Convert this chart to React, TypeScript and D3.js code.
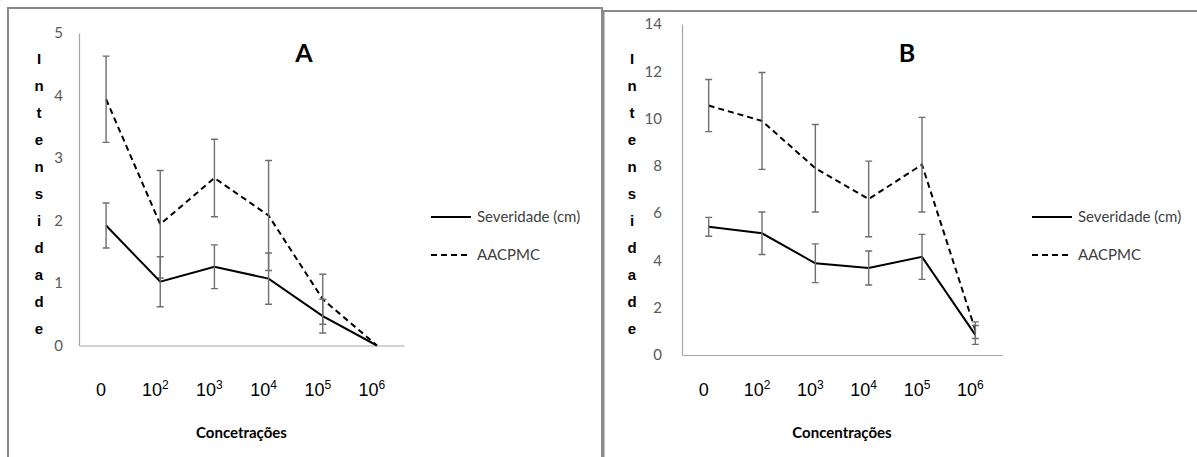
import React, { useRef, useEffect } from 'react'
import * as d3 from 'd3'

// concentrations, shown as base + superscript
const categories = ['c0', 'c2', 'c3', 'c4', 'c5', 'c6']
const tickBase = ['0', '10', '10', '10', '10', '10']
const tickExp = ['', '2', '3', '4', '5', '6']

const seriesNames = ['Severidade (cm)', 'AACPMC']

// panel A
const sevA = [1.92, 1.02, 1.26, 1.07, 0.47, 0]
const sevAErr = [0.36, 0.4, 0.35, 0.41, 0.27, 0]
const aacA = [3.94, 1.94, 2.68, 2.08, 0.74, 0]
const aacAErr = [0.69, 0.86, 0.62, 0.88, 0.4, 0]
const ticksA = [0, 1, 2, 3, 4, 5]

// panel B
const sevB = [5.42, 5.15, 3.88, 3.68, 4.15, 0.85]
const sevBErr = [0.4, 0.9, 0.82, 0.72, 0.95, 0.4]
const aacB = [10.55, 9.9, 7.9, 6.6, 8.05, 1.05]
const aacBErr = [1.1, 2.05, 1.85, 1.6, 2.0, 0.35]
const ticksB = [0, 2, 4, 6, 8, 10, 12, 14]

const yLetters = ['I', 'n', 't', 'e', 'n', 's', 'i', 'd', 'a', 'd', 'e']

const SOFT = 'Lato, "Open Sans", sans-serif'
const ARIAL = '"Liberation Sans", Arial, sans-serif'

type Panel = {
  title: string
  xLabel: string
  left: number
  right: number
  top: number
  bottom: number
  yMax: number
  ticks: number[]
  tickPad: number
  sev: number[]
  sevErr: number[]
  aac: number[]
  aacErr: number[]
  letterX: number
  legendGap: number
  frame: { x0: number; y0: number; x1: number; right: boolean }
}

const W = 1197
const H = 457

const App = () => {
  const ref = useRef<SVGSVGElement>(null)

  useEffect(() => {
    if (!ref.current) return
    const svg = d3.select(ref.current)
    svg.selectAll('*').remove()

    const panels: Panel[] = [
      {
        title: 'A', xLabel: 'Concetrações',
        left: 79, right: 404, top: 33, bottom: 345.5,
        yMax: 5, ticks: ticksA, tickPad: 16,
        sev: sevA, sevErr: sevAErr, aac: aacA, aacErr: aacAErr,
        letterX: 39, legendGap: 27,
        frame: { x0: 8, y0: 8, x1: 602, right: true },
      },
      {
        title: 'B', xLabel: 'Concentrações',
        left: 682, right: 1002, top: 24, bottom: 355,
        yMax: 14, ticks: ticksB, tickPad: 20,
        sev: sevB, sevErr: sevBErr, aac: aacB, aacErr: aacBErr,
        letterX: 632, legendGap: 30,
        frame: { x0: 603.5, y0: 11, x1: W + 2, right: false },
      },
    ]

    panels.forEach((p) => {
      const g = svg.append('g')

      // frame around the panel (bottom is cut off by the picture)
      const fr = p.frame
      g.append('path')
        .attr('d', `M${fr.x0},${H + 2}V${fr.y0}H${fr.x1}` + (fr.right ? `V${H + 2}` : ''))
        .attr('fill', 'none')
        .attr('stroke', '#8a8a8a')
        .attr('stroke-width', 2)

      const x = d3.scaleBand<string>().domain(categories).range([p.left, p.right])
      const y = d3.scaleLinear().domain([0, p.yMax]).range([p.bottom, p.top])
      const cx = (i: number) => (x(categories[i]) as number) + x.bandwidth() / 2

      // y axis
      const ya = g.append('g')
        .attr('transform', `translate(${p.left},0)`)
        .call(d3.axisLeft(y).tickValues(p.ticks).tickFormat(d3.format('d')).tickSize(0).tickSizeOuter(0).tickPadding(p.tickPad))
      ya.select('.domain').attr('stroke', '#a6a6a6').attr('stroke-width', 1.2)
      ya.selectAll('text')
        .attr('font-family', SOFT)
        .attr('font-size', 15)
        .attr('fill', '#595959')

      // x axis line only, labels drawn below
      const xa = g.append('g')
        .attr('transform', `translate(0,${p.bottom})`)
        .call(d3.axisBottom(x).tickSize(0).tickSizeOuter(0).tickFormat(() => ''))
      xa.select('.domain').attr('stroke', '#a6a6a6').attr('stroke-width', 1.2)

      // concentration labels
      categories.forEach((c, i) => {
        const t = g.append('text')
          .attr('x', cx(i) - 5)
          .attr('y', 396)
          .attr('text-anchor', 'middle')
          .attr('font-family', ARIAL)
          .attr('font-size', 18)
          .attr('fill', '#000')
        t.append('tspan').text(tickBase[i])
        if (tickExp[i]) {
          t.append('tspan').attr('dy', -7).attr('font-size', 12).text(tickExp[i])
        }
      })

      g.append('text')
        .attr('x', (p.left + p.right) / 2)
        .attr('y', 438)
        .attr('text-anchor', 'middle')
        .attr('font-family', SOFT)
        .attr('font-weight', 'bold')
        .attr('font-size', 15)
        .attr('fill', '#000')
        .text(p.xLabel)

      // stacked y label
      yLetters.forEach((l, i) => {
        g.append('text')
          .attr('x', p.letterX)
          .attr('y', 64 + i * 27)
          .attr('text-anchor', 'middle')
          .attr('font-family', ARIAL)
          .attr('font-weight', 'bold')
          .attr('font-size', 15)
          .attr('fill', '#000')
          .text(l)
      })

      // title
      g.append('text')
        .attr('x', p.left + 225)
        .attr('y', 62)
        .attr('text-anchor', 'middle')
        .attr('font-family', SOFT)
        .attr('font-weight', 'bold')
        .attr('font-size', 25)
        .attr('fill', '#000')
        .text(p.title)

      const line = d3.line<number>().x((_, i) => cx(i)).y((d) => y(d))

      const drawSeries = (vals: number[], errs: number[], dash: string | null) => {
        g.append('path')
          .attr('d', line(vals))
          .attr('fill', 'none')
          .attr('stroke', '#000')
          .attr('stroke-width', 2)
          .attr('stroke-dasharray', dash)
        vals.forEach((v, i) => {
          if (!errs[i]) return
          const x0 = cx(i)
          const y1 = y(v + errs[i])
          const y2 = y(v - errs[i])
          g.append('path')
            .attr('d', `M${x0},${y1}V${y2}M${x0 - 3.5},${y1}H${x0 + 3.5}M${x0 - 3.5},${y2}H${x0 + 3.5}`)
            .attr('fill', 'none')
            .attr('stroke', '#6f6f6f')
            .attr('stroke-width', 1.4)
        })
      }
      drawSeries(p.aac, p.aacErr, '6,4')
      drawSeries(p.sev, p.sevErr, null)

      // legend
      const lx = p.right + p.legendGap
      seriesNames.forEach((name, i) => {
        const ly = 217 + i * 38
        g.append('line')
          .attr('x1', lx).attr('x2', lx + 40)
          .attr('y1', ly).attr('y2', ly)
          .attr('stroke', '#000')
          .attr('stroke-width', 2)
          .attr('stroke-dasharray', i === 1 ? '6,4' : null)
        g.append('text')
          .attr('x', lx + 46)
          .attr('y', ly + 5)
          .attr('font-family', SOFT)
          .attr('font-size', 15)
          .attr('fill', '#404040')
          .text(name)
      })
    })
  }, [])

  return (
    <svg
      ref={ref}
      width={W}
      height={H}
      style={{ position: 'absolute', left: 0, top: 0, background: '#fff', display: 'block' }}
    />
  )
}

export default App
